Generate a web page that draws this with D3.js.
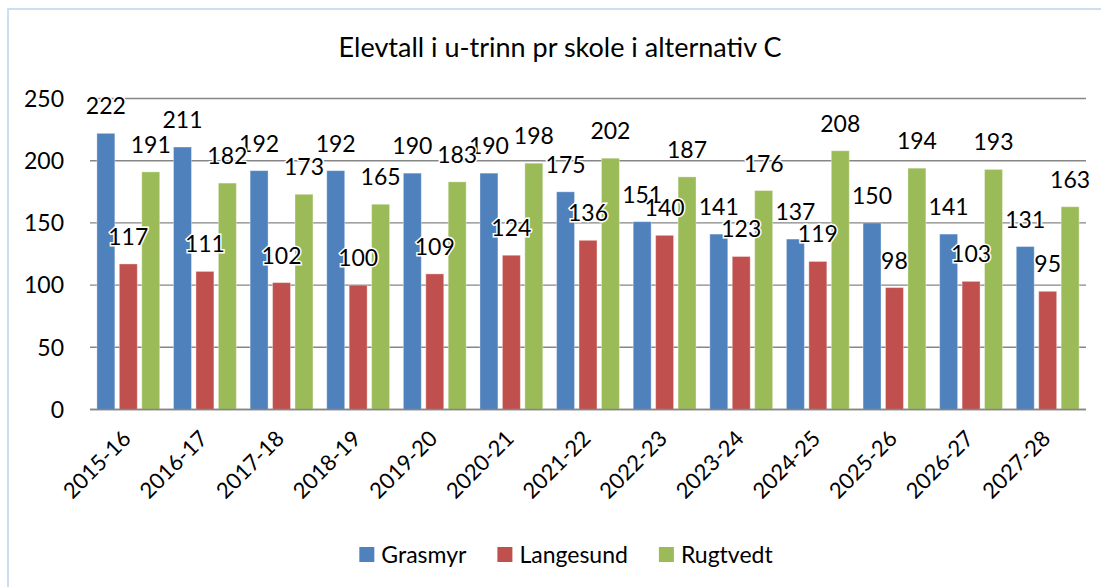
<!DOCTYPE html>
<html>
<head>
<meta charset="utf-8">
<script src="https://cdn.jsdelivr.net/npm/d3@7"></script>
<style>
  body { margin: 0; background: #ffffff; }
  text { font-family: Lato, "Open Sans", sans-serif; fill: #000000; }
</style>
</head>
<body>
<script>

//Chart Title.
var chartTitle = "Elevtall i u-trinn pr skole i alternativ C";

//School Years (categories).
var years = ["2015-16", "2016-17", "2017-18", "2018-19", "2019-20", "2020-21", "2021-22",
             "2022-23", "2023-24", "2024-25", "2025-26", "2026-27", "2027-28"];

//Series Names.
var schools = ["Grasmyr", "Langesund", "Rugtvedt"];

//Series Values.
var grasmyr = [222, 211, 192, 192, 190, 190, 175, 151, 141, 137, 150, 141, 131];
var langesund = [117, 111, 102, 100, 109, 124, 136, 140, 123, 119, 98, 103, 95];
var rugtvedt = [191, 182, 173, 165, 183, 198, 202, 187, 176, 208, 194, 193, 163];

//Y Axis Tick Values.
var yTicks = [0, 50, 100, 150, 200, 250];

//Series Colours.
var colours = ["#4F81BD", "#C0504D", "#9BBB59"];

//Saving Width and Height Variables.
var windowWidth = 1101;
var windowHeight = 587;

//Plot Area Edges.
var plotLeft = 90;
var plotRight = 1086;
var plotTop = 98.5;
var plotBottom = 409.5;

//Appending SVG Container.
var svg = d3.select("body").append("svg").attr("width", windowWidth).attr("height", windowHeight);

//Outer Chart Border (runs off the right and bottom edges).
svg.append("rect")
   .attr("x", 8)
   .attr("y", 9)
   .attr("width", 1110)
   .attr("height", 600)
   .attr("fill", "#ffffff")
   .attr("stroke", "#BCD5EC")
   .attr("stroke-width", 1.5);

//Scales.
var yScale = d3.scaleLinear().domain([0, 250]).range([plotBottom, plotTop]);
var xScale = d3.scaleBand().domain(years).range([plotLeft, plotRight]).paddingInner(0.18).paddingOuter(0.09);
var xInner = d3.scaleBand().domain(schools).range([0, xScale.bandwidth()]).paddingInner(0.2);
var colourScale = d3.scaleOrdinal().domain(schools).range(colours);

//Grouping the series so bars and labels can be drawn from one array.
var seriesData = [grasmyr, langesund, rugtvedt].map(function(values, i) {
  return { name: schools[i], values: values.map(function(v, j) { return { year: years[j], value: v }; }) };
});

//Title.
svg.append("text")
   .attr("x", 560)
   .attr("y", 57)
   .attr("text-anchor", "middle")
   .style("font-size", "27px")
   .text(chartTitle);

//Horizontal Gridlines.
svg.append("g")
   .selectAll("line")
   .data(yTicks)
   .join("line")
   .attr("x1", plotLeft)
   .attr("x2", plotRight)
   .attr("y1", function(d) { return yScale(d); })
   .attr("y2", function(d) { return yScale(d); })
   .attr("stroke", "#868686")
   .attr("stroke-width", 1.4);

//Y Axis Labels.
svg.append("g")
   .selectAll("text")
   .data(yTicks)
   .join("text")
   .attr("x", 64)
   .attr("y", function(d) { return yScale(d); })
   .attr("dy", "0.36em")
   .attr("text-anchor", "end")
   .style("font-size", "23px")
   .text(function(d) { return d; });

//Bars, one group per series.
var barGroups = svg.append("g")
   .selectAll("g")
   .data(seriesData)
   .join("g")
   .attr("fill", function(d) { return colourScale(d.name); });

barGroups.selectAll("rect")
   .data(function(d) { return d.values.map(function(v) { return { name: d.name, year: v.year, value: v.value }; }); })
   .join("rect")
   .attr("x", function(d) { return xScale(d.year) + xInner(d.name); })
   .attr("y", function(d) { return yScale(d.value); })
   .attr("width", xInner.bandwidth())
   .attr("height", function(d) { return yScale(0) - yScale(d.value); })
   .attr("stroke", "#ffffff")
   .attr("stroke-opacity", 0.35)
   .attr("stroke-width", 1);

//Redrawing the zero line over the bar bottoms.
svg.append("line")
   .attr("x1", plotLeft)
   .attr("x2", plotRight)
   .attr("y1", yScale(0))
   .attr("y2", yScale(0))
   .attr("stroke", "#868686")
   .attr("stroke-width", 1.4);

//Data Labels (white halo hides the gridlines behind them).
var labelGroups = svg.append("g")
   .selectAll("g")
   .data(seriesData)
   .join("g");

labelGroups.selectAll("text")
   .data(function(d) { return d.values.map(function(v) { return { name: d.name, year: v.year, value: v.value }; }); })
   .join("text")
   .attr("x", function(d) { return xScale(d.year) + xInner(d.name) + xInner.bandwidth() / 2; })
   .attr("y", function(d) { return yScale(d.value) - 19; })
   .attr("text-anchor", "middle")
   .style("font-size", "23px")
   .style("paint-order", "stroke")
   .style("stroke", "#ffffff")
   .style("stroke-width", "3px")
   .text(function(d) { return d.value; });

//X Axis Labels, rotated 45 degrees.
svg.append("g")
   .selectAll("text")
   .data(years)
   .join("text")
   .attr("transform", function(d) {
     var cx = xScale(d) + xScale.bandwidth() / 2 + 4;
     return "translate(" + cx + "," + 440 + ") rotate(-45)";
   })
   .attr("text-anchor", "end")
   .style("font-size", "22px")
   .text(function(d) { return d; });

//Legend.
var legend = svg.append("g");
var legendX = 0;
var legendGap = 31;
schools.forEach(function(name, i) {
  var item = legend.append("g").attr("transform", "translate(" + legendX + ",0)");
  item.append("rect")
      .attr("x", 0)
      .attr("y", 547)
      .attr("width", 15)
      .attr("height", 15)
      .attr("fill", colourScale(name));
  var label = item.append("text")
      .attr("x", 22)
      .attr("y", 563)
      .style("font-size", "23px")
      .text(name);
  legendX += 22 + label.node().getComputedTextLength() + legendGap;
});

//Centering the legend under the chart.
var legendWidth = legendX - legendGap;
legend.attr("transform", "translate(" + (566 - legendWidth / 2) + ",0)");

</script>
</body>
</html>
